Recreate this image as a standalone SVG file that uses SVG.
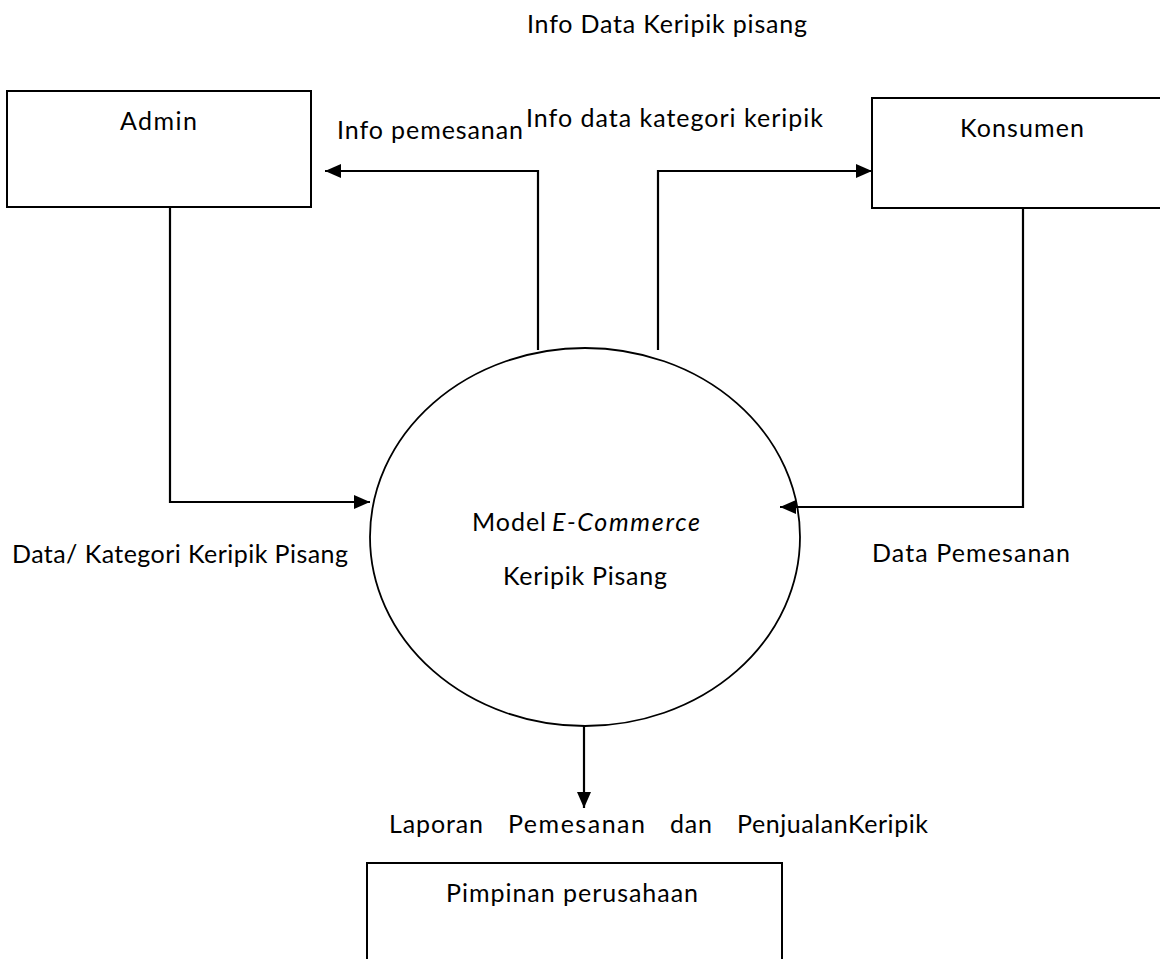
<svg xmlns="http://www.w3.org/2000/svg" width="1160" height="959" viewBox="0 0 1160 959">
  <style>
    .box { fill: #ffffff; stroke: #000000; stroke-width: 2; }
    .proc { fill: none; stroke: #000000; stroke-width: 1.8; }
    .flow { fill: none; stroke: #000000; stroke-width: 2.2; }
    .lbl { font-family: Lato, "Open Sans", "Liberation Sans", sans-serif; font-size: 25px; fill: #000000; }
    .it { font-style: italic; }
  </style>
  <defs>
    <marker id="arrow" markerUnits="userSpaceOnUse" markerWidth="18" markerHeight="14" refX="16" refY="7" orient="auto">
      <path d="M0,0 L16,7 L0,14 Z" fill="#000000"/>
    </marker>
  </defs>

  <rect width="1160" height="959" fill="#ffffff"/>

  <!-- external entities -->
  <g id="admin">
    <rect class="box" x="7" y="91" width="304" height="116"/>
    <text class="lbl" x="120" y="130" textLength="77">Admin</text>
  </g>
  <g id="konsumen">
    <rect class="box" x="872" y="98" width="300" height="110"/>
    <text class="lbl" x="960" y="137" textLength="124">Konsumen</text>
  </g>
  <g id="pimpinan">
    <rect class="box" x="367" y="863" width="415" height="120"/>
    <text class="lbl" x="446" y="902" textLength="252">Pimpinan perusahaan</text>
  </g>

  <!-- process -->
  <g id="proses">
    <ellipse class="proc" cx="585" cy="537" rx="215" ry="189"/>
    <text class="lbl" x="472" y="531" textLength="74">Model</text>
    <text class="lbl it" x="552" y="531" textLength="148">E-Commerce</text>
    <text class="lbl" x="503" y="585" textLength="164">Keripik Pisang</text>
  </g>

  <!-- data flows -->
  <g id="connectors">
    <path class="flow" d="M170,207 V502 H370" marker-end="url(#arrow)"/>
    <path class="flow" d="M538,350 V171 H325" marker-end="url(#arrow)"/>
    <path class="flow" d="M658,350 V171 H872" marker-end="url(#arrow)"/>
    <path class="flow" d="M1023,208 V507 H780" marker-end="url(#arrow)"/>
    <path class="flow" d="M584,726 V808" marker-end="url(#arrow)"/>
  </g>

  <!-- flow labels -->
  <g id="labels">
    <text class="lbl" x="527" y="33" textLength="280">Info Data Keripik pisang</text>
    <text class="lbl" x="526" y="127" textLength="297">Info data kategori keripik</text>
    <text class="lbl" x="337" y="139" textLength="186">Info pemesanan</text>
    <text class="lbl" x="12" y="563" textLength="336">Data/ Kategori Keripik Pisang</text>
    <text class="lbl" x="872" y="562" textLength="198">Data Pemesanan</text>
    <text class="lbl" x="389" y="833" textLength="94">Laporan</text>
    <text class="lbl" x="508" y="833" textLength="137">Pemesanan</text>
    <text class="lbl" x="670" y="833" textLength="42">dan</text>
    <text class="lbl" x="737" y="833" textLength="191">PenjualanKeripik</text>
  </g>
</svg>
